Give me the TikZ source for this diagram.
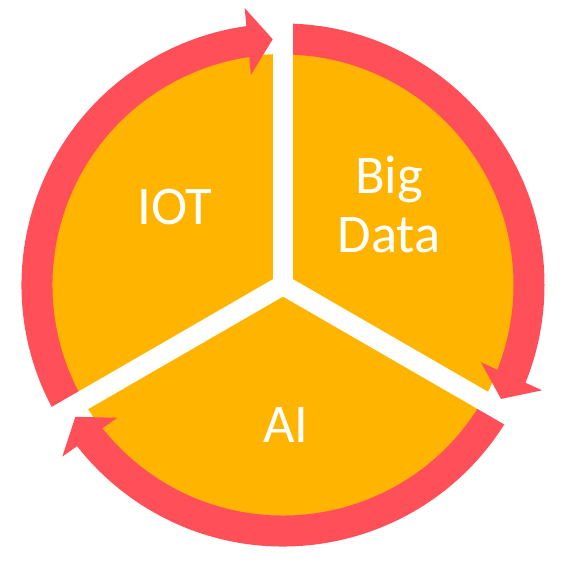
\documentclass[tikz,border=0pt]{standalone}
\usepackage{fontspec}
\setmainfont{Carlito}
\usetikzlibrary{arrows.meta,bending}
\definecolor{cycleorange}{RGB}{255,180,0}
\definecolor{cyclered}{RGB}{255,80,90}

\begin{document}
\begin{tikzpicture}[
    ring/.style={draw=cyclered, line width=0.62cm, -{Triangle[length=0.5cm,width=1.32cm]}},
    spoke/.style={draw=white, line width=0.4cm},
    word/.style={text=white, font=\fontsize{31}{34}\selectfont, align=center}
]
    \useasboundingbox (-5.66,-5.82) rectangle (5.86,5.70);
    \coordinate (hub) at (0,0);

    % Disk
    \fill[cycleorange] (hub) circle (4.62);

    % Cycle arrows
    \draw[ring] (210:4.92) arc[start angle=210, end angle=92.4, radius=4.92];
    \draw[ring] (90:4.92) arc[start angle=90, end angle=-27.6, radius=4.92];
    \draw[ring] (-30:4.92) arc[start angle=-30, end angle=-147.6, radius=4.92];

    % Spokes
    \draw[spoke] (hub) -- ++(90:5.7);
    \draw[spoke] (hub) -- ++(210:5.7);
    \draw[spoke] (hub) -- ++(330:5.7);

    % Labels
    \node[word, anchor=base] (iot) at (-2.16, 1.20) {IOT};
    \node[word] (bigdata) at (2.12, 1.61) {Big\\Data};
    \node[word, anchor=base] (ai) at (0.06, -3.14) {AI};
\end{tikzpicture}
\end{document}
